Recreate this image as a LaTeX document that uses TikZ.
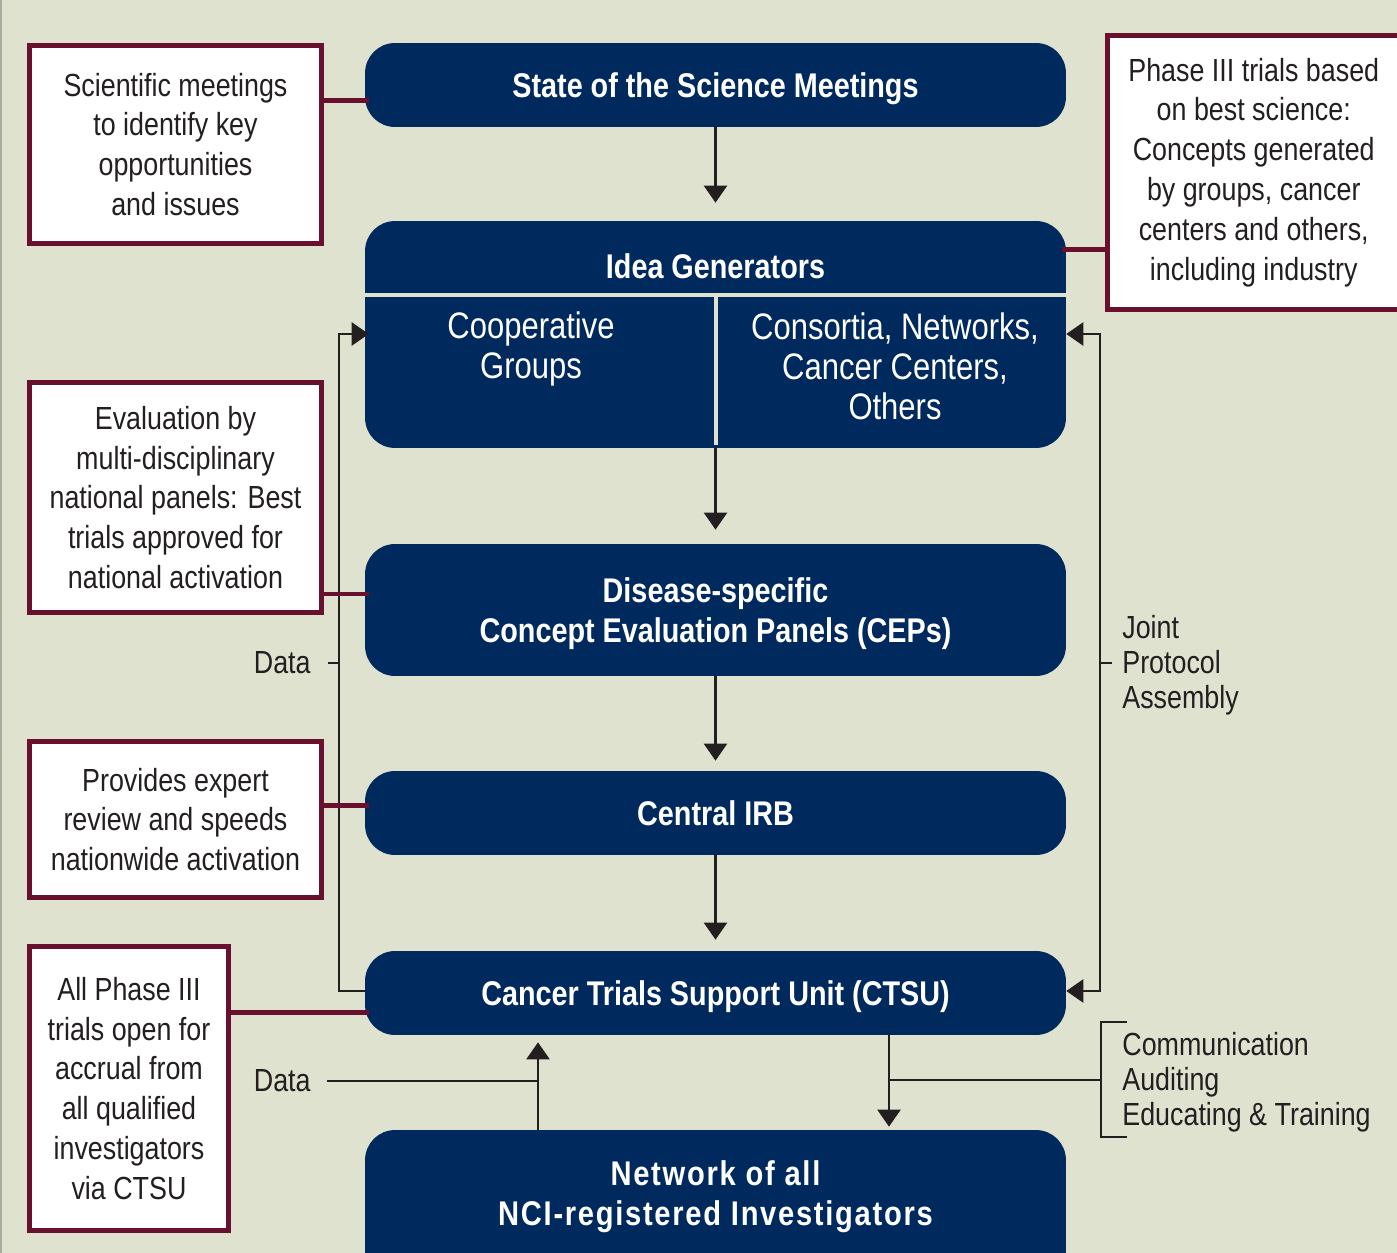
\documentclass[tikz,border=0pt]{standalone}
\usepackage{fontspec}
\setmainfont{Liberation Sans}[FakeStretch=0.84]
\newfontfamily\spacedfont{Liberation Sans}[FakeStretch=0.85,LetterSpace=5]
\usetikzlibrary{arrows.meta}

\definecolor{paper}{RGB}{224,226,208}
\definecolor{navy}{RGB}{0,42,94}
\definecolor{wine}{RGB}{104,16,46}
\definecolor{ink}{RGB}{35,31,32}
\definecolor{edge}{RGB}{170,172,160}

\tikzset{
  navybox/.style={fill=navy, rounded corners=0.6cm, minimum width=14.02cm, inner sep=0pt,
    text depth=0pt, text=white, align=center, font=\bfseries\fontsize{19.5}{22.7}\selectfont},
  subtext/.style={text=white, align=center, inner sep=0pt, font=\fontsize{21}{22.7}\selectfont},
  notebox/.style={draw=wine, line width=0.1cm, fill=white, text=ink, align=center, inner sep=0pt,
    font=\fontsize{18.2}{22.7}\selectfont},
  tieline/.style={draw=wine, line width=0.1cm, shorten >=-0.08cm},
  flow/.style={draw=ink, line width=0.05cm},
  flowarr/.style={flow, -{Triangle[width=0.46cm,length=0.34cm]}},
  flowboth/.style={flow, {Triangle[width=0.46cm,length=0.34cm]}-{Triangle[width=0.46cm,length=0.34cm]}},
  divider/.style={draw=paper, line width=0.08cm},
  sidelabel/.style={text=ink, align=left, inner sep=0pt, font=\fontsize{18.2}{19.8}\selectfont},
}

\begin{document}
\begin{tikzpicture}[x=0.02cm, y=-0.02cm]

    \useasboundingbox (0, 0) rectangle (1397, 1253);
    \clip (0, 0) rectangle (1397, 1253);
    \fill [paper] (0, 0) rectangle (1397, 1253);
    \fill [edge] (0, 0) rectangle (2.5, 1253);

    \node [navybox, minimum height=1.68cm] (ssm) at (715.5, 85) {State of the Science Meetings};
    \node [navybox, minimum height=4.54cm] (idea) at (715.5, 334.5) {};
    \node [navybox, minimum height=2.64cm] (cep) at (715.5, 610) {Disease-specific\\Concept Evaluation Panels (CEPs)};
    \node [navybox, minimum height=1.68cm] (irb) at (715.5, 813) {Central IRB};
    \node [navybox, minimum height=1.68cm] (ctsu) at (715.5, 993) {Cancer Trials Support Unit (CTSU)};
    \node [navybox, minimum height=3.2cm] (net) at (715.5, 1210) {};

    \node [text=white, inner sep=0pt, font=\bfseries\fontsize{19.5}{22.7}\selectfont] (ig) at (715.5, 266) {Idea Generators};
    \draw [divider] (idea.west |- 0, 295.5) to (idea.east |- 0, 295.5);
    \draw [divider] (715.5, 295.5) to (715.5, 445);
    \node [subtext] (cg) at (531, 349) {Cooperative\\Groups};
    \node [subtext] (cn) at (895, 366) {Consortia, Networks,\\Cancer Centers,\\Others};
    \node [text=white, align=center, inner sep=0pt, font=\spacedfont\bfseries\fontsize{19.5}{22.7}\selectfont] (nt) at (715.5, 1197) {Network of all\\NCI-registered Investigators};

    \node [notebox, minimum width=5.84cm, minimum height=3.96cm] (n1) at (175.5, 144.5) {Scientific meetings\\to identify key\\opportunities\\and issues};
    \node [notebox, minimum width=5.85cm, minimum height=5.48cm] (n2) at (1253.75, 172.5) {Phase III trials based\\on best science:\\Concepts generated\\by groups, cancer\\centers and others,\\including industry};
    \node [notebox, minimum width=5.84cm, minimum height=4.6cm] (n3) at (175.5, 497.5) {Evaluation by\\multi-disciplinary\\national panels: Best\\trials approved for\\national activation};
    \node [notebox, minimum width=5.84cm, minimum height=3.12cm] (n4) at (175.5, 819.5) {Provides expert\\review and speeds\\nationwide activation};
    \node [notebox, minimum width=3.98cm, minimum height=5.68cm] (n5) at (129, 1088.5) {All Phase III\\trials open for\\accrual from\\all qualified\\investigators\\via CTSU};

    \coordinate (l) at (339, 334);
    \coordinate (r) at (1100, 334);
    \coordinate (u) at (538, 1081);
    \coordinate (v) at (889, 1080);

    \draw [flowarr, shorten >=0.36cm] (ssm) to (idea);
    \draw [flowarr, shorten >=0.28cm] (idea) to (cep);
    \draw [flowarr, shorten >=0.2cm] (cep) to (irb);
    \draw [flowarr, shorten >=0.22cm] (irb) to (ctsu);

    \draw [flowarr, shorten >=-0.08cm] (ctsu.west |- 0, 991) -| (l) -- (idea.west |- l);
    \node [sidelabel, anchor=east] (d1) at (311, 663) {Data};
    \draw [flow] ([xshift=0.34cm]d1.east) to (l |- d1.east);

    \draw [flowboth] (idea.east |- r) -- (r) -- (r |- 0, 991) -- (ctsu.east |- 0, 991);
    \node [sidelabel, anchor=west] (jpa) at (1122, 665) {Joint\\Protocol\\Assembly};
    \draw [flow] (r |- 0, 663) to ++(0.24cm, 0);

    \node [sidelabel, anchor=east] (d2) at (311, 1081) {Data};
    \draw [flow] ([xshift=0.32cm]d2.east) to (u);
    \draw [flowarr, shorten >=0.14cm] (net.north -| u) to (ctsu.south -| u);
    \draw [flowarr, shorten >=0.06cm] (ctsu.south -| v) to (net.north -| v);

    \node [sidelabel, anchor=west] (cat) at (1122, 1082) {Communication\\Auditing\\Educating \& Training};
    \draw [flow] (v) to (1101, 1080);
    \draw [flow] (1127, 1022) -- (1101, 1022) -- (1101, 1137) -- (1127, 1137);

    \draw [tieline] (n1.east |- 0, 101) to (ssm.west |- 0, 101);
    \draw [tieline] (n2.west |- 0, 250) to (idea.east |- 0, 250);
    \draw [tieline] (n3.east |- 0, 594) to (cep.west |- 0, 594);
    \draw [tieline] (n4.east |- 0, 805) to (irb.west |- 0, 805);
    \draw [tieline] (n5.east |- 0, 1012) to (ctsu.west |- 0, 1012);

  \end{tikzpicture}
\end{document}
